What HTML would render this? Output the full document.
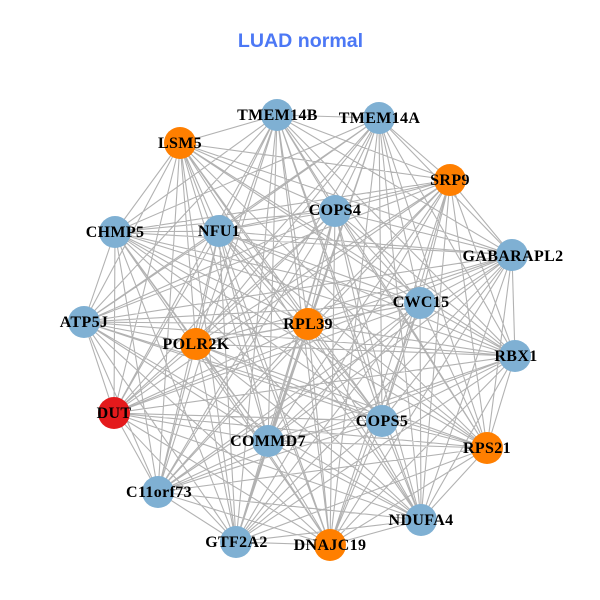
<!DOCTYPE html>
<html><head><meta charset="utf-8"><style>
html,body{margin:0;padding:0;background:#fff;width:600px;height:600px;overflow:hidden}
svg{display:block}
.t{font-family:"Liberation Sans",sans-serif;font-weight:bold;font-size:19.6px;fill:#4c78f5}
.l text{font-family:"Liberation Serif",serif;font-weight:bold;font-size:16px;fill:#000;text-anchor:middle;letter-spacing:.35px}
</style></head><body>
<svg xmlns="http://www.w3.org/2000/svg" width="600" height="600" viewBox="0 0 600 600">
<rect width="600" height="600" fill="#fff"/>
<text class="t" x="300.5" y="47" text-anchor="middle">LUAD normal</text>
<g id="e" stroke="#b2b2b2" stroke-width="1.1" fill="none"></g>
<g id="n"></g>
<g class="l">
<text x="277.5" y="120">TMEM14B</text><text x="379.5" y="123">TMEM14A</text><text x="180" y="148">LSM5</text><text x="450" y="185">SRP9</text><text x="335" y="215">COPS4</text><text x="219" y="236">NFU1</text><text x="115" y="237">CHMP5</text><text x="513" y="261">GABARAPL2</text><text x="421" y="307">CWC15</text><text x="84" y="327">ATP5J</text><text x="308" y="329">RPL39</text><text x="196" y="349">POLR2K</text><text x="516" y="361">RBX1</text><text x="114" y="418">DUT</text><text x="382" y="426">COPS5</text><text x="268" y="446">COMMD7</text><text x="487" y="453">RPS21</text><text x="159" y="497">C11orf73</text><text x="421" y="525">NDUFA4</text><text x="236.5" y="547">GTF2A2</text><text x="330" y="550">DNAJC19</text>
</g>
</svg>
<script>
var P=[[277,115,0],[379,118,0],[180,143,1],[450,180,1],[335,211,0],[219,231,0],[115,232,0],[512,255,0],[420,303,0],[84,322,0],[308,324,1],[196,344,1],[515,356,0],[114,413,2],[382,421,0],[268,441,0],[487,448,1],[158,492,0],[421,520,0],[236,542,0],[330,545,1]];
var C=["#7fb0d3","#ff7f00","#e41a1c"],NS="http://www.w3.org/2000/svg",d="",i,j;
for(i=0;i<21;i++)for(j=i+1;j<21;j++){if(i==1&&j==2)continue;d+="M"+P[i][0]+" "+P[i][1]+"L"+P[j][0]+" "+P[j][1];}
var p=document.createElementNS(NS,"path");p.setAttribute("d",d);document.getElementById("e").appendChild(p);
P.forEach(function(q){var c=document.createElementNS(NS,"circle");c.setAttribute("cx",q[0]);c.setAttribute("cy",q[1]);c.setAttribute("r",16);c.setAttribute("fill",C[q[2]]);document.getElementById("n").appendChild(c);});
</script>
</body></html>
